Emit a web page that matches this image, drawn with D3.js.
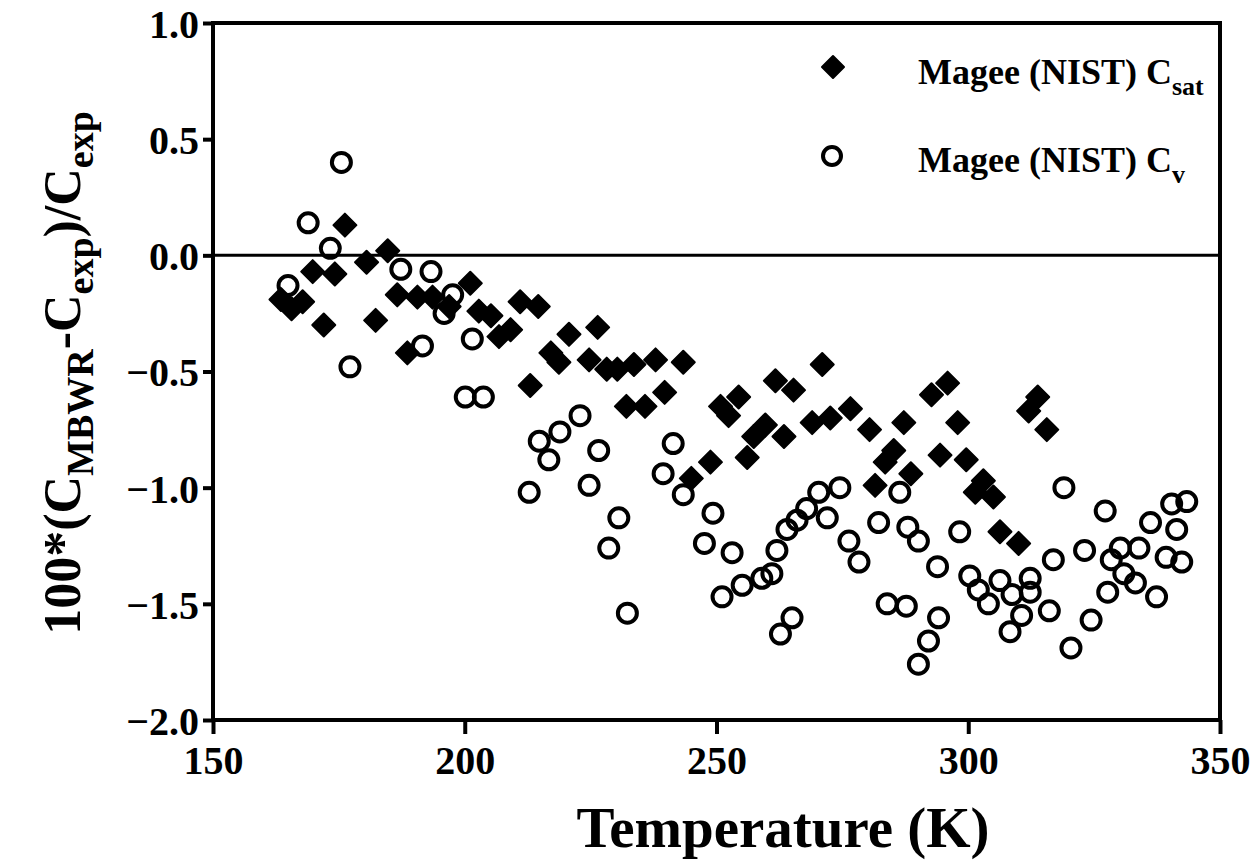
<!DOCTYPE html>
<html><head><meta charset="utf-8">
<script src="https://cdn.jsdelivr.net/npm/d3@7"></script>
<style>
body{margin:0;background:#fff;}
svg text{font-family:"Liberation Serif","Times New Roman",serif;font-weight:bold;fill:#000;}
</style></head>
<body><svg id="c" width="1256" height="861"></svg>
<script>
// Magee (NIST) Csat : temperature (K), deviation (%)
const satT = [163.5,165.6,167.8,169.8,172.0,174.2,176.2,180.5,182.3,184.7,186.6,188.6,190.6,193.6,196.9,201.1,202.8,205.2,206.8,209.1,211.0,213.0,214.6,217.1,218.7,220.7,224.7,226.4,228.2,230.3,232.1,233.6,235.8,237.9,239.7,243.4,245.0,248.8,250.8,252.4,254.4,256.1,257.4,259.7,261.7,263.4,265.3,269.0,271.0,272.6,276.6,280.4,281.5,283.5,285.2,287.2,288.6,292.7,294.4,295.9,297.9,299.6,301.4,303.0,305.0,306.3,310.0,312.0,313.8,315.6];
const satV = [-0.19,-0.23,-0.20,-0.07,-0.30,-0.08,0.13,-0.03,-0.28,0.02,-0.17,-0.42,-0.18,-0.18,-0.22,-0.12,-0.24,-0.26,-0.35,-0.32,-0.20,-0.56,-0.22,-0.42,-0.46,-0.34,-0.45,-0.31,-0.49,-0.49,-0.65,-0.47,-0.65,-0.45,-0.59,-0.46,-0.96,-0.89,-0.65,-0.69,-0.61,-0.87,-0.78,-0.73,-0.54,-0.78,-0.58,-0.72,-0.47,-0.70,-0.66,-0.75,-0.99,-0.89,-0.84,-0.72,-0.94,-0.60,-0.86,-0.55,-0.72,-0.88,-1.02,-0.97,-1.04,-1.19,-1.24,-0.67,-0.61,-0.75];
// Magee (NIST) Cv
const cvT = [164.9,168.9,173.3,175.5,177.2,187.3,191.6,193.3,195.9,197.6,200.1,201.5,203.7,212.8,214.8,216.7,218.9,222.9,224.7,226.6,228.6,230.6,232.3,239.4,241.4,243.4,247.6,249.3,251.1,253.1,255.1,259.0,261.0,262.0,262.7,264.0,265.0,266.0,267.9,270.3,272.0,274.5,276.3,278.3,282.2,283.9,286.4,287.7,288.0,290.1,290.1,292.1,293.9,294.1,298.3,300.3,302.0,304.0,306.3,308.3,308.7,310.6,312.3,312.3,316.1,316.9,319.0,320.4,323.1,324.4,327.2,327.7,328.4,330.2,330.9,333.2,333.9,336.2,337.4,339.3,340.4,341.4,342.4,343.4];
const cvV = [-0.13,0.14,0.03,0.40,-0.48,-0.06,-0.39,-0.07,-0.25,-0.17,-0.61,-0.36,-0.61,-1.02,-0.80,-0.88,-0.76,-0.69,-0.99,-0.84,-1.26,-1.13,-1.54,-0.94,-0.81,-1.03,-1.24,-1.11,-1.47,-1.28,-1.42,-1.39,-1.37,-1.27,-1.63,-1.18,-1.56,-1.14,-1.09,-1.02,-1.13,-1.00,-1.23,-1.32,-1.15,-1.50,-1.02,-1.51,-1.17,-1.23,-1.76,-1.66,-1.34,-1.56,-1.19,-1.38,-1.44,-1.50,-1.40,-1.62,-1.46,-1.55,-1.39,-1.45,-1.53,-1.31,-1.00,-1.69,-1.27,-1.57,-1.10,-1.45,-1.31,-1.26,-1.37,-1.41,-1.26,-1.15,-1.47,-1.30,-1.07,-1.18,-1.32,-1.06];
const xTicks = [150,200,250,300,350];
const yTicks = [1.0,0.5,0.0,-0.5,-1.0,-1.5,-2.0];
const legendLabels = [["Magee (NIST) C","sat"],["Magee (NIST) C","v"]];

const svg = d3.select("#c");
const x = d3.scaleLinear().domain([150,350]).range([213,1220]);
const y = d3.scaleLinear().domain([-2,1]).range([720,23]);

// zero line
svg.append("line").attr("x1",x(150)).attr("x2",x(350)).attr("y1",y(0)).attr("y2",y(0))
  .attr("stroke","#000").attr("stroke-width",3);

// axes
const fmt = d => (d<0?"\u2212":"") + Math.abs(d).toFixed(1);
const yAxis = svg.append("g").attr("transform",`translate(${x(150)},0)`)
  .call(d3.axisLeft(y).tickValues(yTicks).tickFormat(fmt).tickSize(10).tickPadding(4));
const xAxis = svg.append("g").attr("transform",`translate(0,${y(-2)})`)
  .call(d3.axisBottom(x).tickValues(xTicks).tickFormat(d3.format("d")).tickSize(14).tickPadding(8));
[yAxis,xAxis].forEach(g=>{
  g.selectAll(".domain").remove();
  g.selectAll(".tick line").attr("stroke","#000").attr("stroke-width",4);
  g.selectAll(".tick text").style("font-size","40px").style("font-family","Liberation Serif").style("font-weight","bold");
});
yAxis.selectAll(".tick text").attr("dy","0.36em");
xAxis.selectAll(".tick text").attr("dy","0.8em");

// frame
svg.append("rect").attr("x",x(150)).attr("y",y(1)).attr("width",x(350)-x(150)).attr("height",y(-2)-y(1))
  .attr("fill","none").attr("stroke","#000").attr("stroke-width",4);

const diamond = (cx,cy,r)=>`M${cx},${cy-r}L${cx+r},${cy}L${cx},${cy+r}L${cx-r},${cy}Z`;

// Csat diamonds
svg.append("g").selectAll("path").data(d3.range(satT.length)).join("path")
  .attr("d",i=>diamond(x(satT[i]),y(satV[i]),11.5))
  .attr("fill","#000").attr("stroke","#000").attr("stroke-width",2).attr("stroke-linejoin","round");

// Cv circles
svg.append("g").selectAll("circle").data(d3.range(cvT.length)).join("circle")
  .attr("cx",i=>x(cvT[i])).attr("cy",i=>y(cvV[i])).attr("r",9.5)
  .attr("fill","none").attr("stroke","#000").attr("stroke-width",4);

// legend
svg.append("path").attr("d",diamond(833,67,11)).attr("fill","#000").attr("stroke","#000").attr("stroke-width",2).attr("stroke-linejoin","round");
svg.append("circle").attr("cx",832).attr("cy",156).attr("r",9).attr("fill","none").attr("stroke","#000").attr("stroke-width",4);
const ly = [84,172];
legendLabels.forEach((l,i)=>{
  const t = svg.append("text").attr("x",918).attr("y",ly[i]).style("font-size","36px");
  t.append("tspan").text(l[0]);
  t.append("tspan").attr("dy",11).style("font-size","26px").text(l[1]);
});

// axis titles
svg.append("text").attr("x",783).attr("y",847).attr("text-anchor","middle").style("font-size","57px").text("Temperature (K)");
const yt = svg.append("text").attr("transform","translate(80,373) rotate(-90)").attr("text-anchor","middle").style("font-size","52px");
yt.append("tspan").text("100*(C");
yt.append("tspan").attr("dy",13).style("font-size","38px").text("MBWR");
yt.append("tspan").attr("dy",-13).text("-C");
yt.append("tspan").attr("dy",13).style("font-size","38px").text("exp");
yt.append("tspan").attr("dy",-13).text(")/C");
yt.append("tspan").attr("dy",13).style("font-size","38px").text("exp");
</script></body></html>
